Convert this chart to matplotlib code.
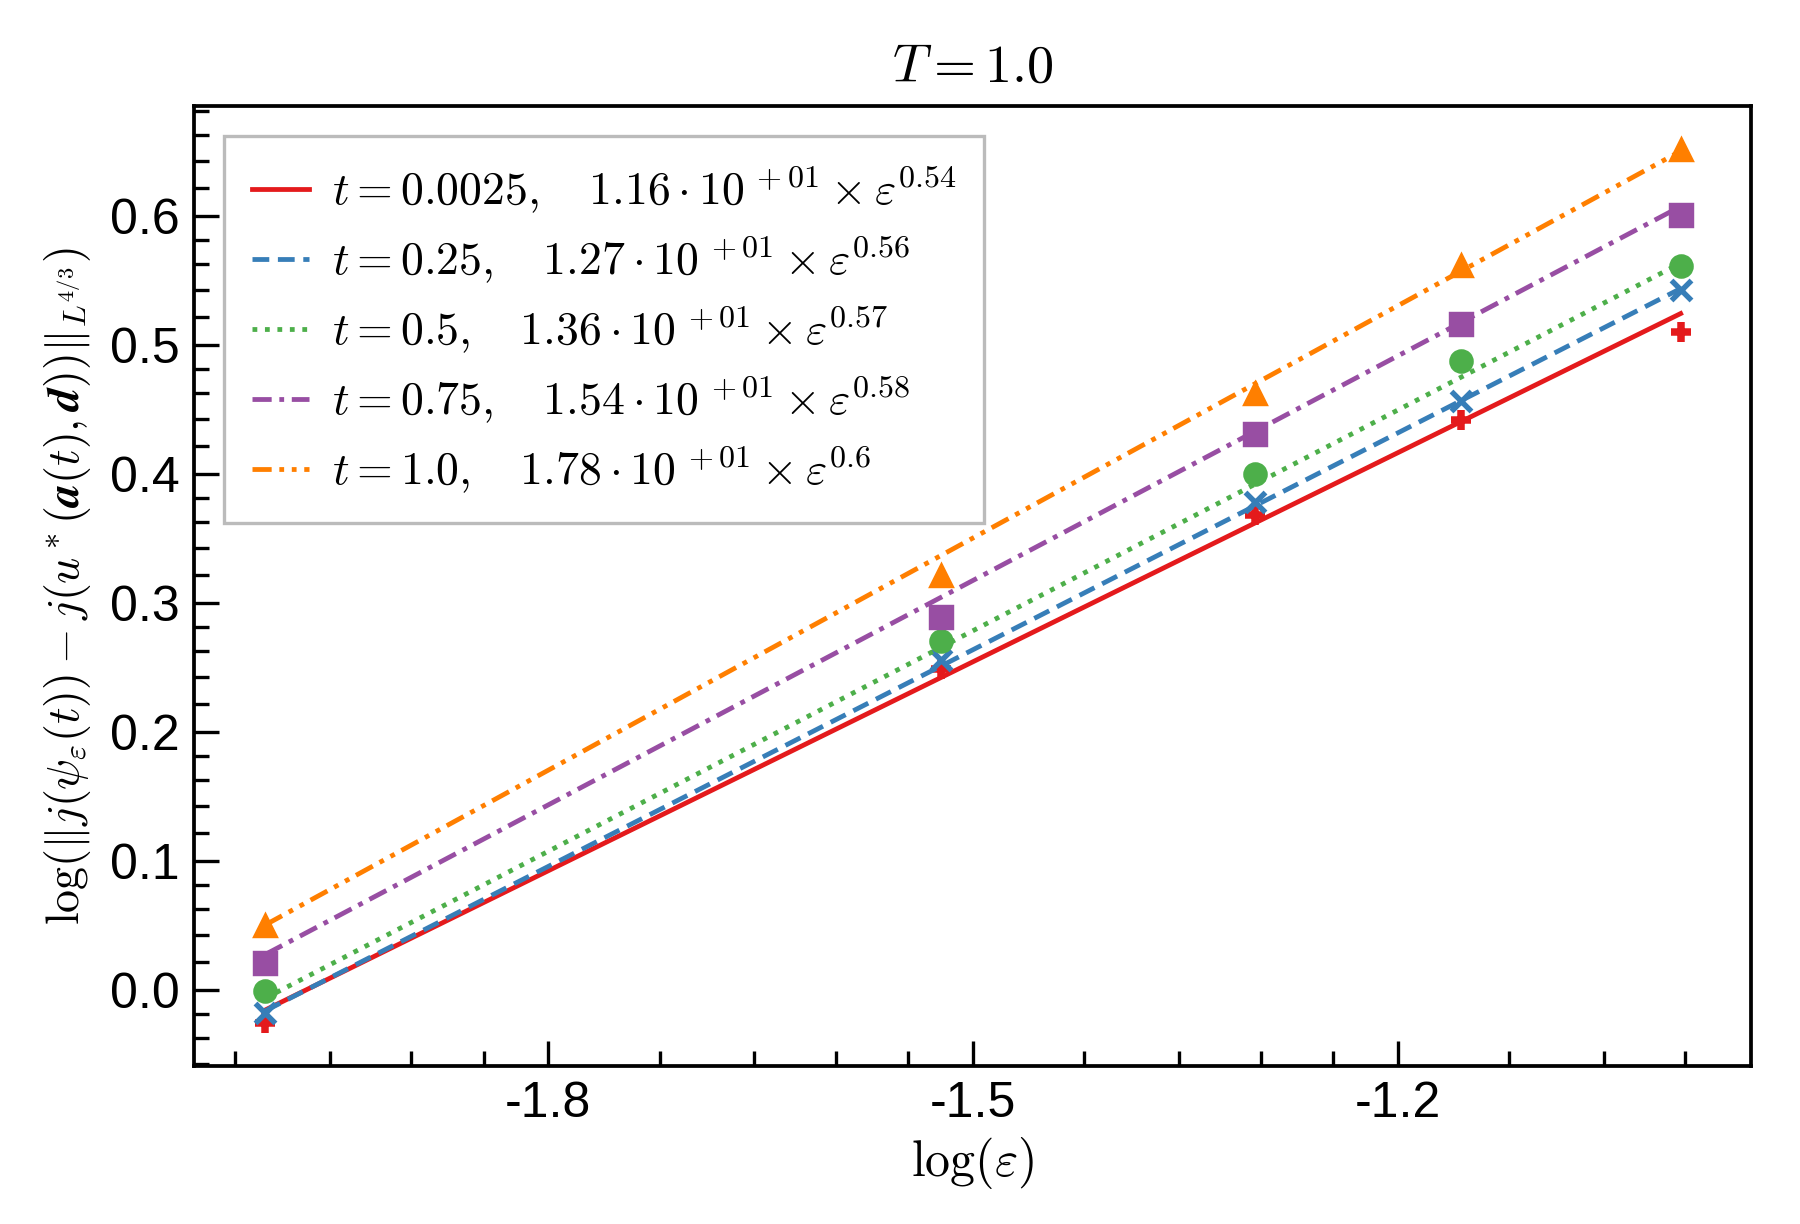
import numpy as np
import matplotlib.pyplot as plt
from matplotlib.ticker import NullFormatter

plt.rcParams['mathtext.fontset'] = 'cm'
plt.rcParams['font.family'] = ['Liberation Sans', 'DejaVu Sans']

# données
eps = [0.01, 0.03, 0.05, 0.07, 0.1]
t_vals = ['0.0025', '0.25', '0.5', '0.75', '1.0']
err = [
    [0.942, 1.774, 2.333, 2.767, 3.236],
    [0.959, 1.803, 2.388, 2.864, 3.491],
    [0.998, 1.866, 2.512, 3.076, 3.639],
    [1.050, 1.945, 2.698, 3.281, 3.990],
    [1.122, 2.094, 2.897, 3.639, 4.477],
]
coefs = ['1.16', '1.27', '1.36', '1.54', '1.78']
expos = ['0.54', '0.56', '0.57', '0.58', '0.6']

colors = ['#e41a1c', '#377eb8', '#4daf4a', '#984ea3', '#ff7f00']
styles = ['-', (0, (3.5, 1.8)), (0, (1, 1.6)), (0, (4, 1.6, 1, 1.6)),
          (0, (4, 1.6, 1, 1.6, 1, 1.6))]
markers = ['+', 'x', 'o', 's', '^']

fig = plt.figure(figsize=(6, 4.08), dpi=300)
ax = fig.add_axes([0.108, 0.129, 0.865, 0.784])

e = np.array(eps)
for i in range(5):
    c = float(coefs[i]) * 10
    p = float(expos[i])
    lab = (r'$t = ' + t_vals[i] + r', \quad ' + coefs[i] +
           r' \cdot 10^{\,+01} \times \varepsilon^{' + expos[i] + '}$')
    ax.plot(e, c * e**p, color=colors[i], linestyle=styles[i], lw=1.15, label=lab)
    mew = 1.8 if markers[i] == '+' else 1.3
    ms = 4.2 if markers[i] == '^' else 4.6
    ax.plot(e, err[i], linestyle='none', marker=markers[i], color=colors[i],
            markersize=ms, mew=mew)

ax.set_xscale('log')
ax.set_yscale('log')
ax.set_xlim(10**-2.05, 10**-0.95)
ax.set_ylim(10**-0.059, 10**0.685)

# graduations : valeurs en log10, sous-graduations linéaires entre deux majeures
def ticks(lo, hi, step, nsub):
    maj = np.round(np.arange(lo, hi + step / 2, step), 3)
    mino = []
    for a, b in zip(maj[:-1], maj[1:]):
        va, vb = 10**a, 10**b
        mino += [va + (vb - va) * k / nsub for k in range(1, nsub)]
    return maj, np.array(mino)

xmaj, xmin = ticks(-2.1, -0.9, 0.3, 5)
xmaj = xmaj[(xmaj > -2.05) & (xmaj < -0.95)]
ax.set_xticks(10**xmaj, ['%.1f' % v for v in xmaj])
ax.set_xticks(xmin[(xmin > 10**-2.05) & (xmin < 10**-0.95)], minor=True)

ymaj, ymin = ticks(-0.1, 0.7, 0.1, 5)
ymaj = ymaj[(ymaj > -0.059) & (ymaj < 0.685)]
ax.set_yticks(10**ymaj, ['%.1f' % (v + 0.0) for v in ymaj])
ax.set_yticks(ymin[(ymin > 10**-0.059) & (ymin < 10**0.685)], minor=True)
ax.xaxis.set_minor_formatter(NullFormatter())
ax.yaxis.set_minor_formatter(NullFormatter())
ax.tick_params(which='both', direction='in', labelsize=12, width=0.8)
ax.tick_params(which='major', length=6)
ax.tick_params(which='minor', length=3.5)
for s in ax.spines.values():
    s.set_linewidth(0.9)

ax.set_xlabel(r'$\log(\varepsilon)$', fontsize=12, labelpad=2)
ax.set_ylabel(r'$\log(\|j(\psi_\varepsilon(t)) - j(u^*(\boldsymbol{a}(t),\boldsymbol{d}))\|_{L^{4/3}})$',
              fontsize=11, labelpad=4)
ax.set_title(r'$T = 1.0$', fontsize=13)

leg = ax.legend(loc='upper left', fontsize=11, fancybox=False, edgecolor='#bbbbbb',
                handlelength=1.25, handletextpad=0.5, borderpad=0.6, labelspacing=0.38,
                framealpha=1, borderaxespad=0.65)
leg.get_frame().set_linewidth(0.8)

fig.savefig('out.png', dpi=300)
